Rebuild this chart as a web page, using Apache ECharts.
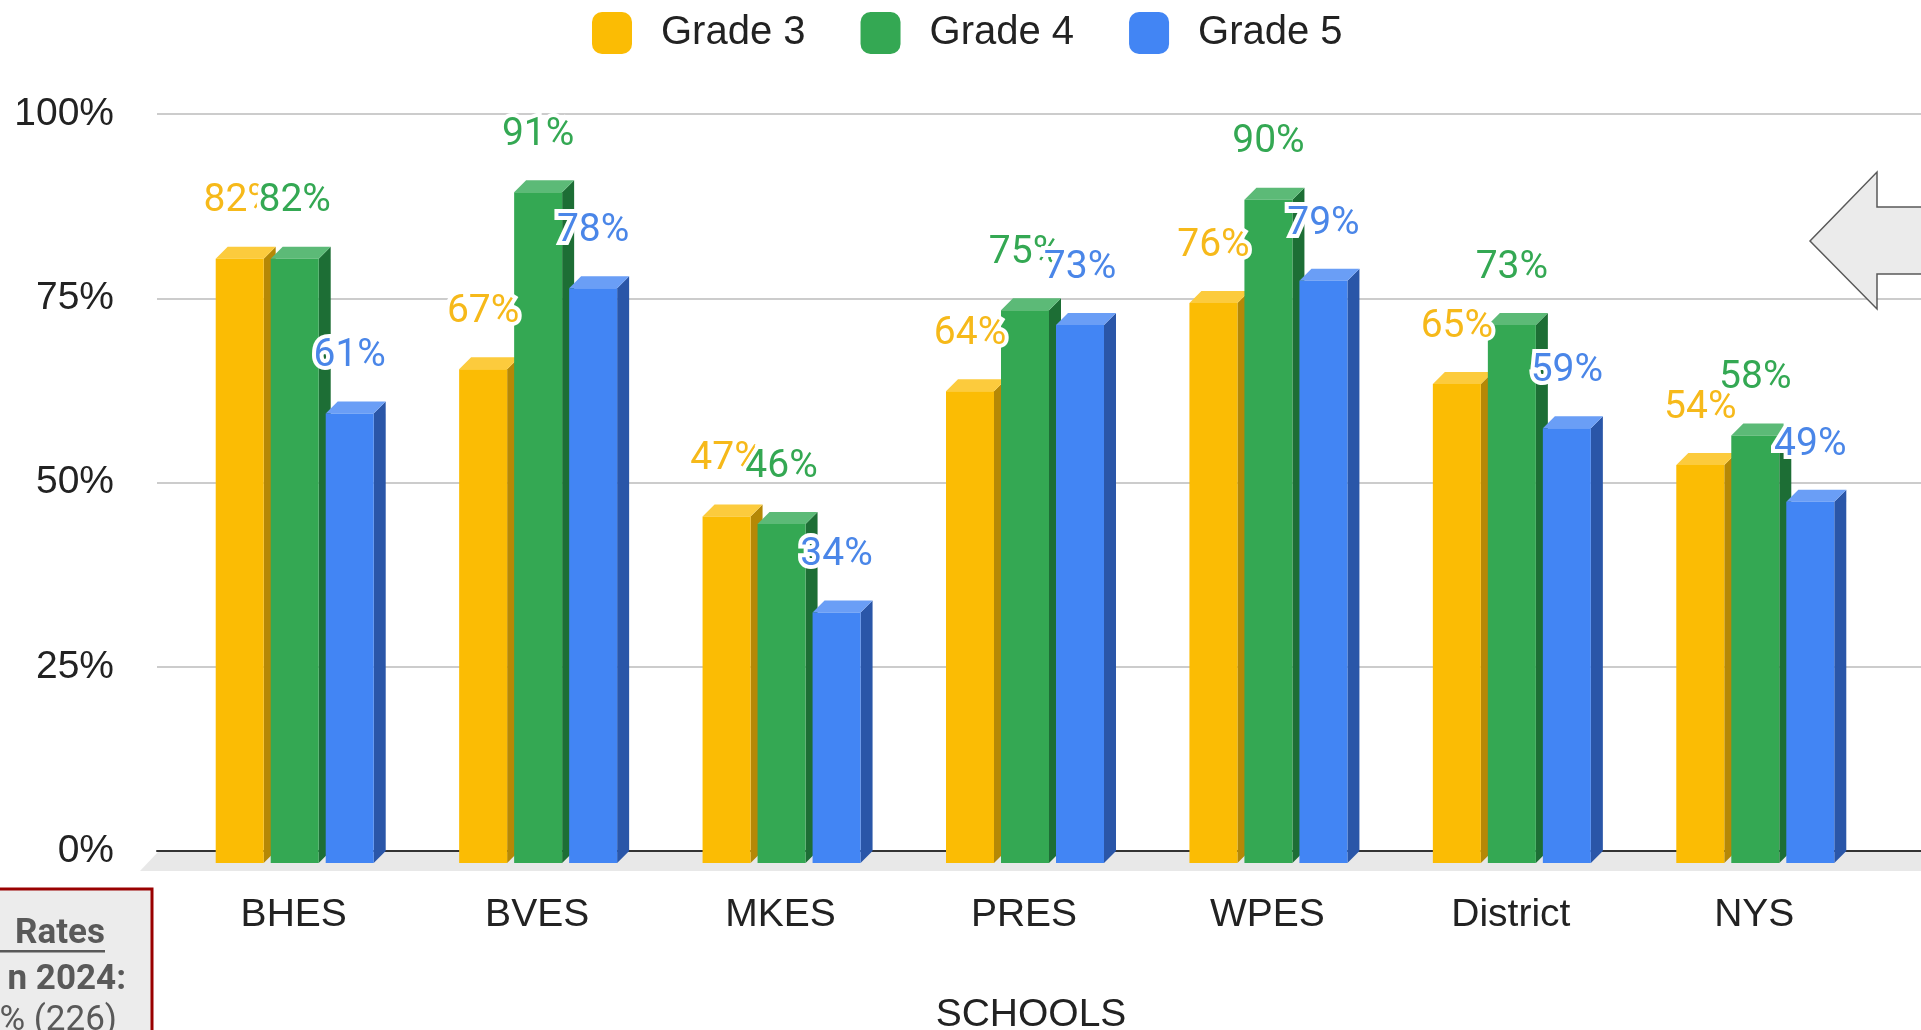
<!DOCTYPE html>
<html><head><meta charset="utf-8">
<script src="https://cdn.jsdelivr.net/npm/echarts@6/dist/echarts.min.js"></script>
<style>html,body{margin:0;padding:0;background:#fff;overflow:hidden}#c{width:1921px;height:1030px}</style>
</head><body><div id="c"></div>
<script>
// ---- data ----
const schools = ['BHES', 'BVES', 'MKES', 'PRES', 'WPES', 'District', 'NYS'];
const grade3 = [82, 67, 47, 64, 76, 65, 54];
const grade4 = [82, 91, 46, 75, 90, 73, 58];
const grade5 = [61, 78, 34, 73, 79, 59, 49];
const seriesNames = ['Grade 3', 'Grade 4', 'Grade 5'];
const yMin = 0, yMax = 100, yStep = 25;
const axisTitle = 'SCHOOLS';
const noteLines = ['Rates', 'n 2024:', '% (226)'];

// ---- styles ----
const palettes = [
  {front: '#fbbc04', side: '#b58806', top: '#fccb3d', label: '#f6b91a'},
  {front: '#34a853', side: '#1d6e35', top: '#5cba77', label: '#34a853'},
  {front: '#4285f4', side: '#2a56a8', top: '#6a9ef6', label: '#4a86e8'}
];
const BAR_W = 48, STEP = 55, DEPTH = 12, LABEL_RISE = 45;
const PLOT_TOP = 114, PLOT_BOTTOM = 851;

function makeRender(si, pal) {
  return function (params, api) {
    const cat = api.value(0), val = api.value(1);
    const pTop = api.coord([cat, val]);
    const pBase = api.coord([cat, 0]);
    const cx = pTop[0] + (si - 1) * STEP + 1;
    const fx0 = cx - BAR_W / 2, fx1 = cx + BAR_W / 2;
    const fyT = pTop[1] + DEPTH, fyB = pBase[1] + DEPTH;
    const byT = pTop[1];
    const txt = val + '%';
    const font = '39px Roboto';
    return {
      type: 'group',
      children: [
        {type: 'polygon', shape: {points: [[fx1, fyT], [fx1 + DEPTH, byT], [fx1 + DEPTH, pBase[1]], [fx1, fyB]]}, style: {fill: pal.side}},
        {type: 'polygon', shape: {points: [[fx0, fyT], [fx0 + DEPTH, byT], [fx1 + DEPTH, byT], [fx1, fyT]]}, style: {fill: pal.top}},
        {type: 'rect', shape: {x: fx0, y: fyT, width: BAR_W, height: fyB - fyT}, style: {fill: pal.front}},
        {type: 'text', z2: 100 + si * 2, x: cx, y: byT - LABEL_RISE,
          style: {text: txt, fill: '#ffffff', stroke: '#ffffff', lineWidth: 8, lineJoin: 'round',
            font: font, align: 'center', verticalAlign: 'middle'}},
        {type: 'text', z2: 101 + si * 2, x: cx, y: byT - LABEL_RISE,
          style: {text: txt, fill: pal.label, font: font, align: 'center', verticalAlign: 'middle'}}
      ]
    };
  };
}

const allValues = [grade3, grade4, grade5];
const series = allValues.map((arr, si) => ({
  type: 'custom',
  name: seriesNames[si],
  xAxisIndex: 1, yAxisIndex: 1,
  itemStyle: {color: palettes[si].front},
  renderItem: makeRender(si, palettes[si]),
  encode: {x: 0, y: 1},
  data: arr.map((v, i) => [i, v])
}));

const chart = echarts.init(document.getElementById('c'), null, {renderer: 'canvas'});
chart.setOption({
  animation: false,
  backgroundColor: '#ffffff',
  legend: {
    data: seriesNames, left: 592, top: 12, icon: 'roundRect',
    itemWidth: 40, itemHeight: 42, itemGap: 55, padding: 0,
    itemStyle: {borderRadius: 4},
    textStyle: {fontSize: 40, color: '#222', fontFamily: 'Liberation Sans', padding: [0, 0, 0, 24]}
  },
  grid: [
    {left: 157, right: 0, top: PLOT_TOP, bottom: 1030 - PLOT_BOTTOM, containLabel: false, outerBoundsMode: 'none'},
    {left: 172, right: 45, top: PLOT_TOP, bottom: 1030 - PLOT_BOTTOM, containLabel: false, outerBoundsMode: 'none'}
  ],
  xAxis: [
    {gridIndex: 0, type: 'value', min: 0, max: 1, axisLine: {show: true, lineStyle: {color: '#333', width: 2}},
      axisTick: {show: false}, axisLabel: {show: false}, splitLine: {show: false}},
    {gridIndex: 1, type: 'category', data: schools, axisLine: {show: false}, axisTick: {show: false},
      axisLabel: {fontSize: 39, color: '#222', fontFamily: 'Liberation Sans', margin: 45},
      name: axisTitle, nameLocation: 'middle', nameGap: 145,
      nameTextStyle: {fontSize: 39, color: '#222', fontFamily: 'Liberation Sans', padding: [0, 0, 0, 14]}}
  ],
  yAxis: [
    {gridIndex: 0, type: 'value', min: yMin, max: yMax, interval: yStep,
      axisLabel: {formatter: '{value}%', fontSize: 39, color: '#222', fontFamily: 'Liberation Sans', margin: 43},
      axisLine: {show: false}, axisTick: {show: false},
      splitLine: {lineStyle: {color: '#cccccc', width: 2}}},
    {gridIndex: 1, type: 'value', min: yMin, max: yMax, interval: yStep, show: false}
  ],
  graphic: [
    {type: 'polygon', z: 0, silent: true,
      shape: {points: [[158, PLOT_BOTTOM + 1], [1921, PLOT_BOTTOM + 1], [1921, PLOT_BOTTOM + 20], [140, PLOT_BOTTOM + 20]]},
      style: {fill: '#e8e8e8'}},
    {type: 'polygon', z: 10, silent: true,
      shape: {points: [[1810, 241], [1877, 172], [1877, 207], [1935, 207], [1935, 274], [1877, 274], [1877, 309]]},
      style: {fill: '#ebebeb', stroke: '#595959', lineWidth: 1.5}},
    {type: 'rect', z: 10, silent: true, shape: {x: -10, y: 889, width: 162, height: 200},
      style: {fill: '#ececec', stroke: '#990000', lineWidth: 3}},
    {type: 'text', z: 11, x: 105, y: 934, style: {text: noteLines[0], font: 'bold 35px Roboto', fill: '#595959', align: 'right', verticalAlign: 'middle'}},
    {type: 'rect', z: 11, shape: {x: 0, y: 950, width: 105, height: 2.5}, style: {fill: '#595959'}},
    {type: 'text', z: 11, x: 126, y: 980, style: {text: noteLines[1], font: 'bold 35px Roboto', fill: '#595959', align: 'right', verticalAlign: 'middle'}},
    {type: 'text', z: 11, x: 117, y: 1021, style: {text: noteLines[2], font: '35px Roboto', fill: '#595959', align: 'right', verticalAlign: 'middle'}}
  ],
  series: series
});
</script>
</body></html>
